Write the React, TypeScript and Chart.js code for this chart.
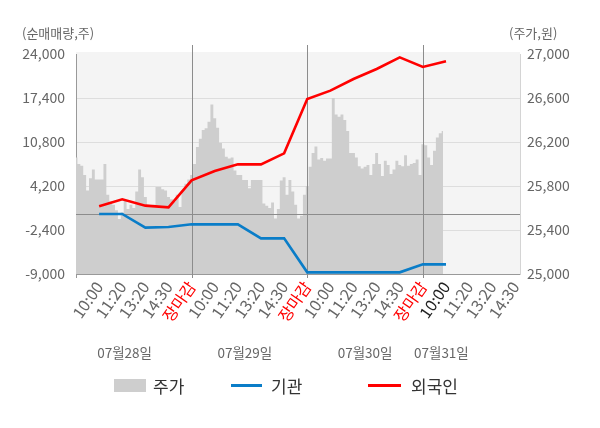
import { useEffect, useRef } from 'react';
import { Chart, registerables } from 'chart.js';

Chart.register(...registerables);

const FONT = '"Noto Sans CJK KR", "Noto Sans", sans-serif';

// x축: 1칸 = 시간 라벨 하나
const X_LABELS = [
    '10:00', '11:20', '13:20', '14:30', '장마감',
    '10:00', '11:20', '13:20', '14:30', '장마감',
    '10:00', '11:20', '13:20', '14:30', '장마감',
    '10:00', '11:20', '13:20', '14:30',
];
const X_MAX = 19.2;
const DAY_BREAKS = [5, 10, 15];
const DAY_LABELS = ['07월28일', '07월29일', '07월30일', '07월31일'];
const DAY_LABEL_AT = [2.1, 7.3, 12.5, 15.8];

// 주가 (원), 한 칸에 8개씩
const PRICE_PER_SLOT = 8;
const PRICE = [
    26060, 26000, 25985, 25900, 25760, 25870, 25950, 25860, 25860, 25860,
    26000, 25720, 25660, 25630, 25580, 25500, 25560, 25670, 25590, 25630,
    25600, 25750, 25950, 25880, 25700, 25630, 25620, 25630, 25790, 25790,
    25770, 25760, 25700, 25680, 25660, 25720, 25610, 25760, 25820, 25860,
    25900, 26000, 26155, 26230, 26310, 26325, 26385, 26540, 26415, 26330,
    26190, 26140, 26065, 26050, 26060, 25940, 25900, 25900, 25855, 25855,
    25780, 25855, 25855, 25855, 25855, 25640, 25620, 25600, 25650, 25505,
    25590, 25850, 25880, 25720, 25855, 25750, 25630, 25505, 25530, 25720,
    25800, 25975, 26100, 26160, 26040, 26055, 26030, 26050, 26050, 26600,
    26450, 26430, 26450, 26400, 26300, 26100, 26100, 26060, 25980, 25960,
    25975, 25990, 25900, 26000, 26100, 26000, 25890, 26030, 25990, 25910,
    25950, 26030, 25990, 25980, 26080, 25985, 26000, 26010, 26040, 25900,
    26180, 26170, 26060, 25990, 26120, 26240, 26280, 26300,
];

// 순매매량 (주), 라벨 칸 1부터
const INSTITUTION = [
    0, 0, -2050, -1950, -1550, -1550, -1550, -3650, -3650, -8750,
    -8750, -8750, -8750, -8750, -7550, -7550,
];
const FOREIGN = [
    1150, 2200, 1250, 1000, 5050, 6450, 7450, 7450, 9100, 17250,
    18500, 20250, 21750, 23500, 22050, 22900,
];

const GRAY = '#cecece';
const BLUE = '#0a7dc8';
const RED = '#ff0000';

const decorations = {
    id: 'decorations',
    beforeDraw(chart: any) {
        const { ctx, chartArea } = chart;
        ctx.save();
        ctx.fillStyle = '#f4f4f4';
        ctx.fillRect(chartArea.left, chartArea.top - 2, chartArea.right - chartArea.left, chartArea.bottom - chartArea.top + 2);
        ctx.restore();
    },
    afterDatasetDraw(chart: any, args: any) {
        if (args.index !== 0) return;
        const { ctx, chartArea, scales } = chart;
        ctx.save();
        ctx.strokeStyle = '#8c8c8c';
        ctx.lineWidth = 1;
        // 0 기준선
        const y0 = Math.round(scales.y.getPixelForValue(0)) + 0.5;
        ctx.beginPath();
        ctx.moveTo(chartArea.left, y0);
        ctx.lineTo(chartArea.right, y0);
        ctx.stroke();
        // 날짜 구분선
        DAY_BREAKS.forEach((v) => {
            const x = Math.round(scales.x.getPixelForValue(v)) + 0.5;
            ctx.beginPath();
            ctx.moveTo(x, chartArea.top - 9);
            ctx.lineTo(x, chartArea.bottom + 4);
            ctx.stroke();
        });
        ctx.strokeStyle = '#999';
        const xl = Math.round(chartArea.left) + 0.5;
        ctx.beginPath();
        ctx.moveTo(xl, chartArea.bottom);
        ctx.lineTo(xl, chartArea.bottom + 4);
        ctx.stroke();
        ctx.restore();
    },
    afterDraw(chart: any) {
        const { ctx, scales } = chart;
        ctx.save();
        ctx.fillStyle = '#666';
        ctx.textBaseline = 'middle';
        ctx.font = `13px ${FONT}`;
        ctx.textAlign = 'left';
        ctx.fillText('(순매매량,주)', 22, 33);
        ctx.fillText('(주가,원)', 509, 33);
        ctx.font = `13.5px ${FONT}`;
        ctx.textAlign = 'center';
        DAY_LABELS.forEach((t, i) => {
            ctx.fillText(t, scales.x.getPixelForValue(DAY_LABEL_AT[i]), 353);
        });
        ctx.restore();
    },
};

const legendText = {
    position: 'absolute' as const,
    top: 374,
    height: 24,
    lineHeight: '24px',
    fontSize: 17,
    color: '#333',
    fontFamily: FONT,
    whiteSpace: 'nowrap' as const,
};

const App = () => {
    const chartRef = useRef<HTMLCanvasElement | null>(null);

    useEffect(() => {
        const canvas = chartRef.current;
        if (!canvas) return;

        const chart = new Chart(canvas, {
            type: 'line',
            data: {
                datasets: [
                    {
                        label: '주가',
                        data: PRICE.map((p, i) => ({ x: i / PRICE_PER_SLOT, y: p })),
                        yAxisID: 'y1',
                        borderColor: 'rgba(0,0,0,0)',
                        borderWidth: 0,
                        backgroundColor: GRAY,
                        fill: 'start',
                        stepped: 'middle',
                        pointRadius: 0,
                        order: 3,
                    },
                    {
                        label: '기관',
                        data: INSTITUTION.map((v, i) => ({ x: i + 1, y: v })),
                        yAxisID: 'y',
                        borderColor: BLUE,
                        borderWidth: 2.6,
                        pointRadius: 0,
                        fill: false,
                        order: 2,
                    },
                    {
                        label: '외국인',
                        data: FOREIGN.map((v, i) => ({ x: i + 1, y: v })),
                        yAxisID: 'y',
                        borderColor: RED,
                        borderWidth: 2.6,
                        pointRadius: 0,
                        fill: false,
                        order: 1,
                    },
                ],
            },
            options: {
                responsive: false,
                animation: false,
                layout: { padding: { top: 54, bottom: 84, left: 0, right: 0 } },
                plugins: {
                    legend: { display: false },
                    tooltip: { enabled: false },
                },
                scales: {
                    x: {
                        type: 'linear',
                        min: 0,
                        max: X_MAX,
                        grid: { display: false, drawTicks: false },
                        border: { color: '#999' },
                        afterBuildTicks: (scale: any) => {
                            scale.ticks = X_LABELS.map((_, i) => ({ value: i + 1 }));
                        },
                        afterFit: (scale: any) => {
                            scale.height = 70;
                        },
                        ticks: {
                            autoSkip: false,
                            maxRotation: 55,
                            minRotation: 55,
                            padding: 4,
                            font: { family: FONT, size: 16 },
                            color: (c: any) => {
                                if (X_LABELS[c.index] === '장마감') return RED;
                                if (c.index === 15) return '#222';
                                return '#666';
                            },
                            callback: (_v: any, i: number) => X_LABELS[i],
                        },
                    },
                    y: {
                        position: 'left',
                        min: -9000,
                        max: 24000,
                        afterFit: (scale: any) => {
                            scale.width = 76;
                        },
                        grid: {
                            drawTicks: false,
                            color: (c: any) =>
                                c.tick && (c.tick.value === 24000 || c.tick.value === -9000) ? 'rgba(0,0,0,0)' : '#dddddd',
                        },
                        border: { color: '#999' },
                        ticks: {
                            stepSize: 6600,
                            padding: 11,
                            font: { family: FONT, size: 14 },
                            color: '#666',
                            callback: (v: any) => Number(v).toLocaleString('en-US'),
                        },
                    },
                    y1: {
                        position: 'right',
                        min: 25000,
                        max: 27000,
                        afterFit: (scale: any) => {
                            scale.width = 80;
                        },
                        grid: { drawOnChartArea: false, drawTicks: false },
                        border: { color: '#d4d4d4' },
                        ticks: {
                            stepSize: 400,
                            padding: 7,
                            font: { family: FONT, size: 14 },
                            color: '#666',
                            callback: (v: any) => Number(v).toLocaleString('en-US'),
                        },
                    },
                },
            },
            plugins: [decorations],
        });

        return () => {
            chart.destroy();
        };
    }, []);

    return (
        <div style={{ position: 'absolute', left: 0, top: 0, width: 600, height: 428, background: '#fff' }}>
            <canvas ref={chartRef} width={600} height={428}></canvas>
            <div style={{ position: 'absolute', left: 114, top: 379, width: 32, height: 13, background: GRAY }} />
            <div style={{ ...legendText, left: 153 }}>주가</div>
            <div style={{ position: 'absolute', left: 231, top: 384, width: 31, height: 3, background: BLUE }} />
            <div style={{ ...legendText, left: 271 }}>기관</div>
            <div style={{ position: 'absolute', left: 368, top: 384, width: 33, height: 3, background: RED }} />
            <div style={{ ...legendText, left: 411 }}>외국인</div>
        </div>
    );
};

export default App;
